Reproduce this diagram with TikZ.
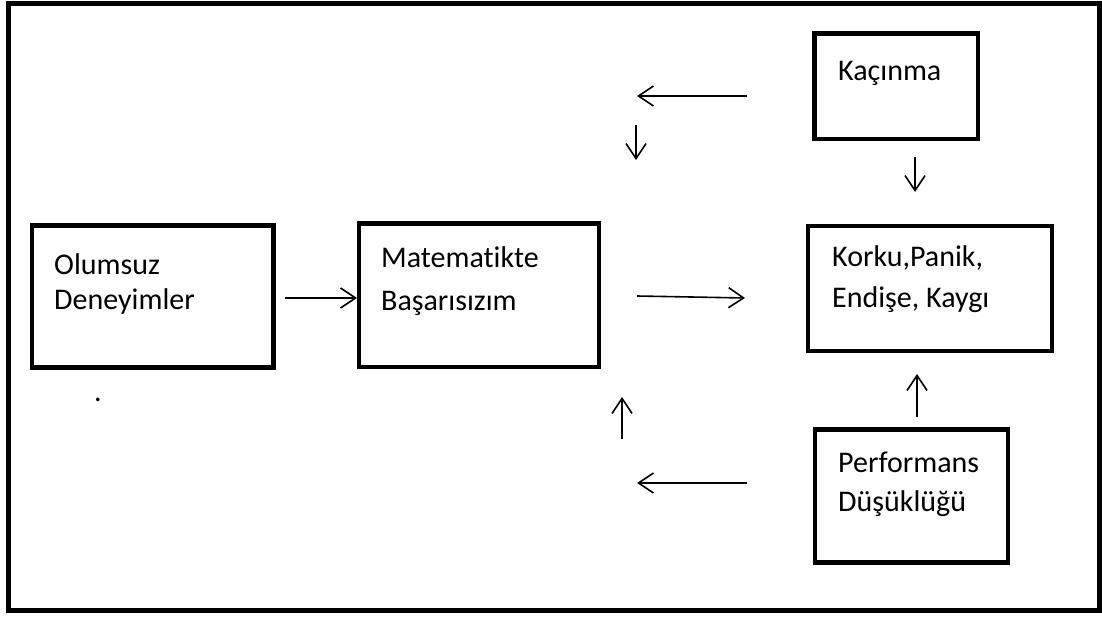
\documentclass[tikz,border=0pt]{standalone}
\usepackage{fontspec}
\setmainfont{Carlito}[RawFeature=-liga]
\usetikzlibrary{arrows.meta}
\begin{document}
\begin{tikzpicture}[x=1pt,y=-1pt,
  box/.style={draw, line width=4.5pt, anchor=north west, inner sep=0pt, outer sep=0pt},
  txt/.style={anchor=base west, inner sep=0pt, font=\fontsize{30}{36}\selectfont},
  arr/.style={line width=1.6pt, -{Straight Barb[length=15pt,width=20pt]}}]
\useasboundingbox (0,0) rectangle (1102,617);
% outer frame
\draw[line width=5pt] (8.5,3.5) rectangle (1099,610.5);
% boxes
\node[box, minimum width=241.5pt, minimum height=142pt] (olum) at (32,225.5) {};
\node[box, minimum width=240pt, minimum height=143.5pt] (mat) at (359,223.5) {};
\node[box, minimum width=244pt, minimum height=125pt] (kork) at (808,226) {};
\node[box, minimum width=163.5pt, minimum height=105.5pt] (kac) at (814.5,33.5) {};
\node[box, minimum width=193pt, minimum height=133pt] (perf) at (815,429.5) {};
% texts
\node[txt] (t1a) at (54,275) {Olumsuz};
\node[txt] (t1b) at (54,310) {Deneyimler};
\node[txt] (t2a) at (381,268) {Matematikte};
\node[txt] (t2b) at (381,311) {Başarısızım};
\node[txt] (t3a) at (832,267) {Korku,Panik,};
\node[txt] (t3b) at (832,308) {Endişe, Kaygı};
\node[txt] (t4) at (838,81) {Kaçınma};
\node[txt] (t5a) at (838,472) {Performans};
\node[txt] (t5b) at (838,511) {Düşüklüğü};
\node[txt, anchor=base] (dot) at (98,401) {.};
% arrow end points
\coordinate (a1s) at (285,298); \coordinate (a1e) at (357,298);
\coordinate (a2s) at (637,296); \coordinate (a2e) at (745,298);
\coordinate (a3s) at (747,96);  \coordinate (a3e) at (637,96);
\coordinate (a4s) at (636,125); \coordinate (a4e) at (636,160);
\coordinate (a5s) at (915,157); \coordinate (a5e) at (915,192);
\coordinate (a6s) at (917,417); \coordinate (a6e) at (917,374);
\coordinate (a7s) at (622,439); \coordinate (a7e) at (622,397);
\coordinate (a8s) at (747,483); \coordinate (a8e) at (637,483);
\draw[arr] (a1s) -- (a1e);
\draw[arr] (a2s) -- (a2e);
\draw[arr] (a3s) -- (a3e);
\draw[arr] (a4s) -- (a4e);
\draw[arr] (a5s) -- (a5e);
\draw[arr] (a6s) -- (a6e);
\draw[arr] (a7s) -- (a7e);
\draw[arr] (a8s) -- (a8e);
\end{tikzpicture}
\end{document}
